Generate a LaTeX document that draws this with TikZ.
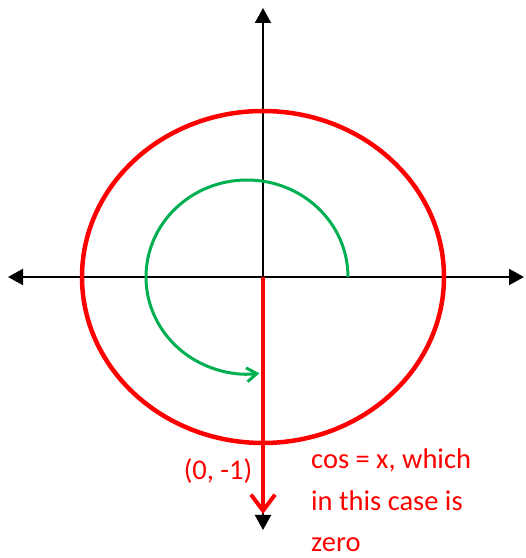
\documentclass[tikz,border=0pt]{standalone}
\usepackage{fontspec}
\setmainfont{Carlito}
\usetikzlibrary{arrows.meta}
\definecolor{offgreen}{RGB}{0,176,80}
\begin{document}
\begin{tikzpicture}[x=1pt,y=1pt,
  axis/.style={line width=2pt,black,-{Triangle[length=15pt,width=16pt]}},
  lbl/.style={text=red,font=\fontsize{28.5}{42}\selectfont,inner sep=0pt}]
\useasboundingbox (0,0) rectangle (526,558);
% coordinates (y flipped: 558 - pixel y)
\coordinate (O) at (263,281);
\coordinate (L) at (8,281);
\coordinate (R) at (524,281);
\coordinate (T) at (263,550);
\coordinate (B) at (263,28);
\coordinate (Rend) at (263,44);
% axes
\draw[axis] (O) -- (L);
\draw[axis] (O) -- (R);
\draw[axis] (O) -- (T);
\draw[axis] (O) -- (B);
% red ellipse
\draw[red,line width=4.5pt] (O) ellipse [x radius=181, y radius=166];
% green arc
\coordinate (Gs) at (348,281);
\draw[offgreen,line width=3pt,-{Straight Barb[length=10pt,width=14pt,line width=3pt]}]
  (Gs) arc[start angle=0,end angle=277,x radius=101,y radius=97];
% red arrow
\draw[red,line width=4pt,-{Straight Barb[length=16pt,width=24pt,line width=4pt]}] (O) -- (Rend);
% labels
\node[lbl,anchor=base] (pt) at (218,78) {(0, -1)};
\node[lbl,anchor=base west,align=left] (txt) at (311,6) {cos = x, which\\in this case is\\zero};
\end{tikzpicture}
\end{document}
